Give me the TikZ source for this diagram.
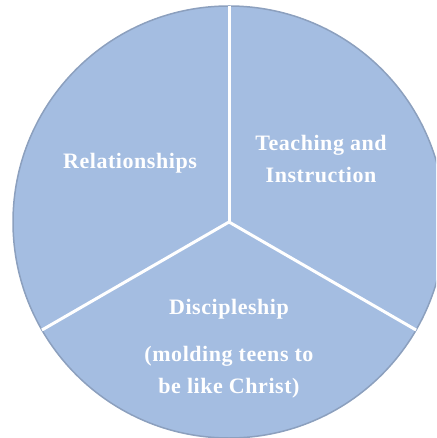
\documentclass[tikz,border=0pt]{standalone}
\usepackage{fontspec}
\setmainfont[LetterSpace=2.5]{Liberation Serif}
\usetikzlibrary{calc}
\definecolor{piefill}{RGB}{164,189,225}
\definecolor{pieedge}{RGB}{140,160,190}
\tikzset{
  lbl/.style={text=white, font=\fontsize{22}{32}\selectfont\bfseries, align=center, inner sep=0pt},
  sep/.style={draw=white, line width=3pt},
}
\begin{document}
\begin{tikzpicture}[x=1pt,y=-1pt]
\useasboundingbox (0,0) rectangle (436,438);
\begin{scope}
\clip (0,0) rectangle (436,438);
\coordinate (c) at (229,222);
\fill[piefill, draw=pieedge, line width=1.5pt] (c) circle (216);
\coordinate (pt) at ($(c)+(-90:216)$);
\coordinate (pl) at ($(c)+(150:216)$);
\coordinate (pr) at ($(c)+(30:216)$);
\draw[sep] (c) -- (pt);
\draw[sep] (c) -- (pl);
\draw[sep] (c) -- (pr);
\end{scope}
\node[lbl] (rel) at (130,163) {Relationships};
\node[lbl] (teach) at (321,159) {Teaching and\\Instruction};
\node[lbl, anchor=base] (disc) at (229,393) {Discipleship\\[15pt](molding teens to\\be like Christ)};
\end{tikzpicture}
\end{document}
